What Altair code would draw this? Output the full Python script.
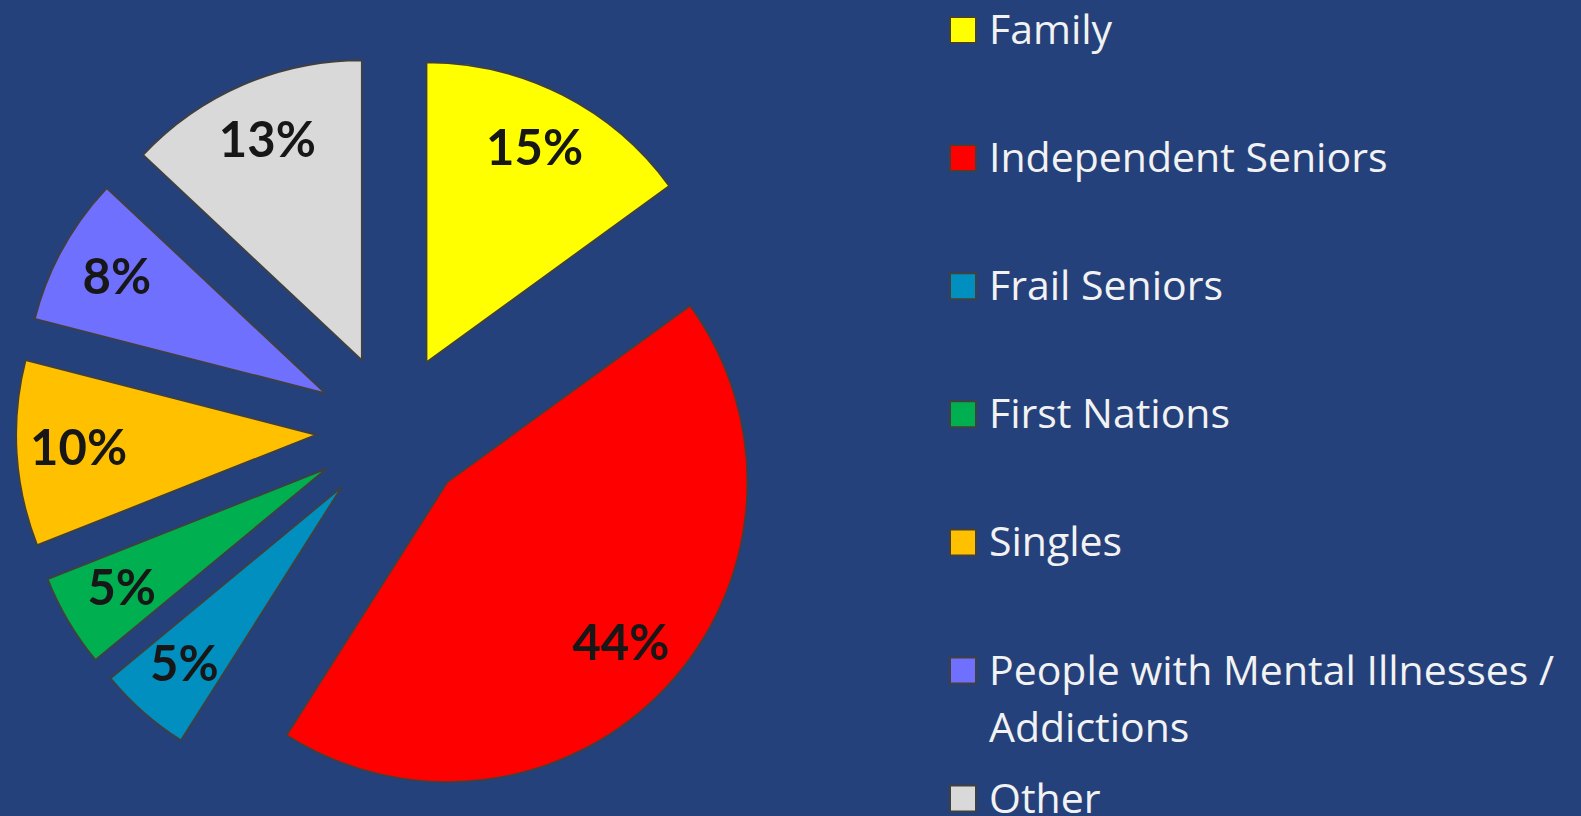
import altair as alt
import pandas as pd

categories = ["Family", "Independent Seniors", "Frail Seniors", "First Nations",
              "Singles", "People with Mental Illnesses /|Addictions", "Other"]
values = [15, 44, 5, 5, 10, 8, 13]
colors = ["#FFFF00", "#FF0000", "#008FBE", "#00B050", "#FFC000", "#7070FF", "#D9D9D9"]

BG = "#24417B"
CX, CY = 392, 430
R = 300
EXPLODE = 76
LABEL_R = EXPLODE + 238
LEG_Y0, LEG_STEP = 30, 128.1
FONT = "Lato"
LEG_FONT = "Open Sans"

df = pd.DataFrame({"category": categories, "value": values,
                   "order": list(range(len(values)))})

base = (
    alt.Chart(df)
    .transform_window(cum="sum(value)", sort=[alt.SortField("order")])
    .transform_joinaggregate(total="sum(value)")
    .transform_calculate(
        t1="datum.cum / datum.total * 2 * PI",
        t0="(datum.cum - datum.value) / datum.total * 2 * PI",
    )
    .transform_calculate(mid="(datum.t0 + datum.t1) / 2")
    .transform_calculate(
        cx=f"{CX} + {EXPLODE} * sin(datum.mid)",
        cy=f"{CY} - {EXPLODE} * cos(datum.mid)",
        lx=f"{CX} + {LABEL_R} * sin(datum.mid)",
        ly=f"{CY} - {LABEL_R} * cos(datum.mid)",
        pct="format(datum.value / datum.total, '.0%')",
        legy=f"{LEG_Y0} + datum.order * {LEG_STEP}",
        leglines="split(datum.category, '|')",
    )
)

color = alt.Color("category:N", scale=alt.Scale(domain=categories, range=colors), legend=None)

arcs = base.mark_arc(outerRadius=R, stroke="#404040", strokeWidth=1.8).encode(
    x=alt.X("cx:Q", scale=None),
    y=alt.Y("cy:Q", scale=None),
    theta=alt.Theta("t0:Q", scale=None, stack=None),
    theta2="t1:Q",
    color=color,
)

labels = base.mark_text(font=FONT, fontSize=49, fontWeight="bold", color="#171717",
                        align="center", baseline="middle").encode(
    x=alt.X("lx:Q", scale=None),
    y=alt.Y("ly:Q", scale=None),
    text="pct:N",
)

squares = base.mark_square(size=26 * 26, stroke="#404040", strokeWidth=2, opacity=1).encode(
    x=alt.value(963),
    y=alt.Y("legy:Q", scale=None),
    color=color,
)

legtext = base.mark_text(font=LEG_FONT, fontSize=41, color="#F2F2F2", align="left",
                         baseline="alphabetic", dy=14, lineHeight=57).encode(
    x=alt.value(989),
    y=alt.Y("legy:Q", scale=None),
    text="leglines:N",
)

chart = (
    alt.layer(arcs, labels, squares, legtext)
    .properties(width=1581, height=816, background=BG, padding=0,
                autosize=alt.AutoSizeParams(type="none"))
    .configure_view(stroke=None)
)

chart.save("out.html", embed_options={"renderer": "svg", "actions": False})
